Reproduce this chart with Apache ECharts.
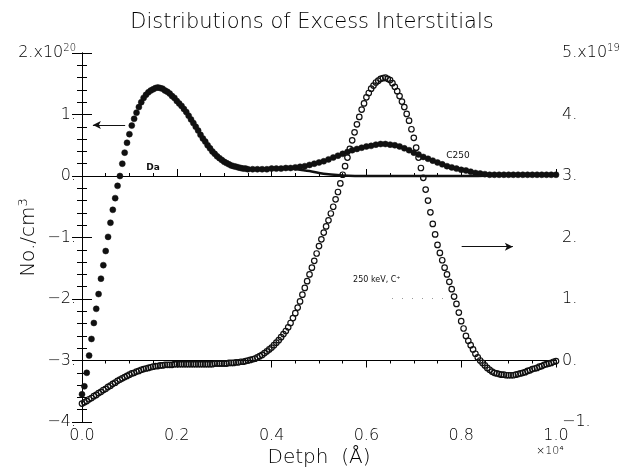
<!DOCTYPE html>
<html>
<head>
<meta charset="utf-8">
<script src="https://cdn.jsdelivr.net/npm/echarts/dist/echarts.min.js"></script>
<style>
  html, body { margin: 0; padding: 0; background: #fff; }
  #chart { width: 624px; height: 472px; }
</style>
</head>
<body>
<div id="chart"></div>
<script>
// depth in units of 1e4 Angstrom
// left axis (x1e20 /cm3): Da and C250 interstitial curves
const c250Data = [
  [0.000,-3.55],[0.005,-3.42],[0.010,-3.20],[0.015,-2.92],[0.020,-2.65],[0.025,-2.39],[0.030,-2.16],
  [0.035,-1.92],[0.040,-1.67],[0.045,-1.45],[0.050,-1.22],[0.055,-0.99],[0.060,-0.76],[0.065,-0.55],
  [0.070,-0.36],[0.075,-0.16],[0.080,0.00],[0.085,0.20],[0.090,0.38],[0.095,0.54],[0.100,0.68],
  [0.105,0.82],[0.110,0.93],[0.115,1.03],[0.120,1.12],[0.125,1.20],[0.130,1.27],[0.135,1.32],
  [0.140,1.36],[0.145,1.39],[0.150,1.41],[0.155,1.43],[0.160,1.44],[0.165,1.43],[0.170,1.42],
  [0.175,1.39],[0.180,1.37],[0.185,1.34],[0.190,1.30],[0.195,1.27],[0.200,1.22],[0.205,1.18],
  [0.210,1.14],[0.215,1.09],[0.220,1.04],[0.225,0.98],[0.230,0.92],[0.235,0.86],[0.240,0.80],
  [0.245,0.74],[0.250,0.67],[0.255,0.61],[0.260,0.56],[0.265,0.50],[0.270,0.45],[0.275,0.40],
  [0.280,0.36],[0.285,0.32],[0.290,0.29],[0.295,0.26],[0.300,0.23],[0.305,0.21],[0.310,0.19],
  [0.315,0.17],[0.320,0.16],[0.325,0.15],[0.330,0.14],[0.335,0.13],[0.340,0.12],[0.345,0.12],
  [0.350,0.11],[0.36,0.11],[0.37,0.11],[0.38,0.11],[0.39,0.11],[0.40,0.12],[0.41,0.12],[0.42,0.12],
  [0.43,0.13],[0.44,0.13],[0.45,0.14],[0.46,0.15],[0.47,0.16],[0.48,0.18],[0.49,0.20],[0.50,0.22],
  [0.51,0.24],[0.52,0.27],[0.53,0.30],[0.54,0.33],[0.55,0.36],[0.56,0.39],[0.57,0.42],[0.58,0.44],
  [0.59,0.46],[0.60,0.48],[0.61,0.49],[0.62,0.51],[0.63,0.52],[0.64,0.52],[0.65,0.51],[0.66,0.50],
  [0.67,0.48],[0.68,0.45],[0.69,0.42],[0.70,0.38],[0.71,0.35],[0.72,0.31],[0.73,0.28],[0.74,0.25],
  [0.75,0.22],[0.76,0.19],[0.77,0.16],[0.78,0.14],[0.79,0.12],[0.80,0.10],[0.81,0.09],[0.82,0.07],
  [0.83,0.05],[0.84,0.04],[0.85,0.03],[0.86,0.02],[0.87,0.02],[0.88,0.02],[0.89,0.02],[0.90,0.02],
  [0.91,0.02],[0.92,0.02],[0.93,0.02],[0.94,0.02],[0.95,0.02],[0.96,0.02],[0.97,0.02],[0.98,0.02],
  [0.99,0.02],[1.00,0.02]
];
const daData = [
  [0.12,1.12],[0.14,1.36],[0.16,1.44],[0.18,1.37],[0.20,1.22],[0.22,1.04],[0.24,0.80],[0.26,0.56],
  [0.28,0.36],[0.30,0.23],[0.32,0.16],[0.34,0.12],[0.36,0.11],[0.40,0.12],[0.44,0.12],[0.46,0.10],
  [0.48,0.08],[0.50,0.05],[0.52,0.03],[0.55,0.01],[0.60,0.00],[0.70,0.00],[0.80,0.00],[0.90,0.01],
  [1.00,0.01]
];
// right axis (x1e19 /cm3): 250 keV C+ implant
const carbonData = [
  [0.000,-0.70],[0.005,-0.68],[0.010,-0.66],[0.015,-0.63],[0.020,-0.61],[0.025,-0.58],[0.030,-0.56],
  [0.035,-0.53],[0.040,-0.51],[0.045,-0.48],[0.050,-0.46],[0.055,-0.43],[0.060,-0.41],[0.065,-0.38],
  [0.070,-0.36],[0.075,-0.33],[0.080,-0.31],[0.085,-0.29],[0.090,-0.27],[0.095,-0.25],[0.100,-0.23],
  [0.105,-0.21],[0.110,-0.20],[0.115,-0.18],[0.120,-0.17],[0.125,-0.15],[0.130,-0.14],[0.135,-0.13],
  [0.140,-0.12],[0.145,-0.11],[0.150,-0.10],[0.155,-0.09],[0.160,-0.09],[0.165,-0.08],[0.170,-0.08],
  [0.175,-0.07],[0.180,-0.07],[0.185,-0.07],[0.190,-0.07],[0.195,-0.06],[0.200,-0.06],[0.205,-0.06],
  [0.210,-0.06],[0.215,-0.06],[0.220,-0.06],[0.225,-0.06],[0.230,-0.06],[0.235,-0.06],[0.240,-0.06],
  [0.245,-0.06],[0.250,-0.06],[0.255,-0.06],[0.260,-0.06],[0.265,-0.06],[0.270,-0.06],[0.275,-0.06],
  [0.280,-0.05],[0.285,-0.05],[0.290,-0.05],[0.295,-0.05],[0.300,-0.05],[0.305,-0.05],[0.310,-0.04],
  [0.315,-0.04],[0.320,-0.04],[0.325,-0.03],[0.330,-0.03],[0.335,-0.02],[0.340,-0.02],[0.345,-0.01],
  [0.350,0.00],[0.355,0.01],[0.360,0.02],[0.365,0.03],[0.370,0.05],[0.375,0.07],[0.380,0.09],
  [0.385,0.12],[0.390,0.15],[0.395,0.18],[0.400,0.21],[0.405,0.25],[0.410,0.29],[0.415,0.33],
  [0.420,0.38],[0.425,0.43],[0.430,0.48],[0.435,0.54],[0.440,0.61],[0.445,0.69],[0.450,0.77],
  [0.455,0.86],[0.460,0.96],[0.465,1.07],[0.470,1.18],[0.475,1.29],[0.480,1.40],[0.485,1.51],
  [0.490,1.62],[0.495,1.74],[0.500,1.86],[0.505,1.97],[0.510,2.08],[0.515,2.18],[0.520,2.28],
  [0.525,2.39],[0.530,2.50],[0.535,2.62],[0.540,2.74],[0.545,2.88],[0.550,3.02],[0.555,3.16],
  [0.560,3.30],[0.565,3.44],[0.570,3.58],[0.575,3.71],[0.580,3.84],[0.585,3.96],[0.590,4.08],
  [0.595,4.18],[0.600,4.28],[0.605,4.35],[0.610,4.42],[0.615,4.47],[0.620,4.52],[0.625,4.55],
  [0.630,4.58],[0.635,4.59],[0.640,4.60],[0.645,4.58],[0.650,4.56],[0.655,4.51],[0.660,4.45],
  [0.665,4.38],[0.670,4.30],[0.675,4.21],[0.680,4.12],[0.685,4.01],[0.690,3.90],[0.695,3.76],
  [0.700,3.62],[0.705,3.46],[0.710,3.30],[0.715,3.13],[0.720,2.97],[0.725,2.78],[0.730,2.60],
  [0.735,2.41],[0.740,2.22],[0.745,2.05],[0.750,1.88],[0.755,1.75],[0.760,1.63],[0.765,1.51],
  [0.770,1.40],[0.775,1.28],[0.780,1.16],[0.785,1.04],[0.790,0.92],[0.795,0.78],[0.800,0.64],
  [0.805,0.52],[0.810,0.40],[0.815,0.32],[0.820,0.25],[0.825,0.18],[0.830,0.11],[0.835,0.05],
  [0.840,0.00],[0.845,-0.04],[0.850,-0.08],[0.855,-0.12],[0.860,-0.15],[0.865,-0.18],[0.870,-0.20],
  [0.875,-0.21],[0.880,-0.22],[0.885,-0.23],[0.890,-0.23],[0.895,-0.24],[0.900,-0.24],[0.905,-0.24],
  [0.910,-0.24],[0.915,-0.23],[0.920,-0.22],[0.925,-0.21],[0.930,-0.20],[0.935,-0.19],[0.940,-0.17],
  [0.945,-0.16],[0.950,-0.14],[0.955,-0.13],[0.960,-0.12],[0.965,-0.10],[0.970,-0.09],[0.975,-0.07],
  [0.980,-0.06],[0.985,-0.05],[0.990,-0.04],[0.995,-0.02],[1.000,-0.01]
];

const leftRange = [-4, 2];
const rightRange = [-1, 5];
const xRange = [0, 1];

const ink = '#000';
const font = 'DejaVu Sans';
const thin = 200;

const chart = echarts.init(document.getElementById('chart'));

function tickLabel(v, top, exp) {
  if (v === top) return '{n|' + v + '.x10}{s|' + exp + '}';
  return (v < 0 ? '\u2212' : '') + Math.abs(v) + '.';
}

const supRich = {
  n: {fontSize: 16, color: ink, fontFamily: font, fontWeight: thin},
  s: {fontSize: 10, color: ink, fontFamily: font, fontWeight: thin, padding: [0, 0, 9, 0]}
};

// axis with only short inner ticks, drawn on top of a labelled axis
function minorAxis(range, interval, position, len) {
  return {
    type: 'value', min: range[0], max: range[1], interval: interval, position: position,
    axisLine: {show: false},
    axisTick: {inside: true, length: len, lineStyle: {color: ink}},
    splitLine: {show: false},
    axisLabel: {show: false}
  };
}

const option = {
  animation: false,
  backgroundColor: '#fff',
  title: {
    text: 'Distributions of Excess Interstitials',
    left: 'center',
    top: 7,
    textStyle: {fontSize: 21, fontWeight: thin, color: ink, fontFamily: font}
  },
  grid: {left: 82, right: 68, top: 53, bottom: 50, containLabel: false, outerBoundsMode: 'none'},
  xAxis: [
    {
      type: 'value', min: xRange[0], max: xRange[1], interval: 0.2,
      name: 'Detph  (Å)', nameLocation: 'middle', nameGap: 26, nameMoveOverlap: false,
      nameTextStyle: {fontSize: 20, fontWeight: thin, color: ink, fontFamily: font},
      axisLine: {lineStyle: {color: ink, width: 1}},
      axisTick: {inside: true, length: 7, lineStyle: {color: ink}},
      splitLine: {show: false},
      axisLabel: {fontSize: 16, fontWeight: thin, color: ink, fontFamily: font, margin: 6,
        formatter: v => v.toFixed(1)}
    },
    {
      type: 'value', min: xRange[0], max: xRange[1], interval: 0.2, position: 'top',
      axisLine: {lineStyle: {color: ink, width: 1}},
      axisTick: {inside: true, length: 7, lineStyle: {color: ink}},
      splitLine: {show: false},
      axisLabel: {show: false}
    },
    minorAxis(xRange, 0.05, 'bottom', 3),
    minorAxis(xRange, 0.05, 'top', 3)
  ],
  yAxis: [
    {
      type: 'value', min: leftRange[0], max: leftRange[1], interval: 1,
      name: 'No./cm{s|3}', nameLocation: 'middle', nameGap: 42, nameRotate: 90,
      nameMoveOverlap: false,
      nameTextStyle: {fontSize: 20, fontWeight: thin, color: ink, fontFamily: font,
        rich: {s: {fontSize: 13, fontWeight: thin, color: ink, fontFamily: font, padding: [0, 0, 10, 0]}}},
      axisLine: {lineStyle: {color: ink, width: 1}},
      axisTick: {inside: true, length: 10, lineStyle: {color: ink}},
      splitLine: {show: false},
      axisLabel: {fontSize: 16, fontWeight: thin, color: ink, fontFamily: font, margin: 6,
        formatter: v => tickLabel(v, 2, '20'), rich: supRich}
    },
    {
      type: 'value', min: rightRange[0], max: rightRange[1], interval: 1, position: 'right',
      axisLine: {lineStyle: {color: ink, width: 1}},
      axisTick: {inside: true, length: 10, lineStyle: {color: ink}},
      splitLine: {show: false},
      axisLabel: {fontSize: 16, fontWeight: thin, color: ink, fontFamily: font, margin: 6,
        formatter: v => tickLabel(v, 5, '19'), rich: supRich}
    },
    minorAxis(leftRange, 0.2, 'left', 5),
    minorAxis(rightRange, 0.2, 'right', 5)
  ],
  graphic: [
    {type: 'text', left: 536, top: 446,
      style: {text: '×10⁴', fontSize: 11, fontWeight: thin, fill: ink, fontFamily: font}}
  ],
  series: [
    {
      name: 'Da', type: 'line', xAxisIndex: 0, yAxisIndex: 0,
      data: daData, smooth: 0.4, showSymbol: false, silent: true,
      lineStyle: {color: '#111', width: 2.5},
      markPoint: {
        symbol: 'circle', symbolSize: 0, silent: true,
        label: {show: true, formatter: '{b}', fontSize: 9, fontWeight: 'bold', color: '#111', fontFamily: font},
        data: [{name: 'Da', coord: [0.150, 0.13]}]
      },
      markLine: {
        silent: true, symbol: ['none', 'arrow'], symbolSize: [6, 8],
        lineStyle: {color: '#111', width: 1.2, type: 'solid'}, label: {show: false},
        data: [[{coord: [0.091, 0.83]}, {coord: [0.023, 0.83]}]]
      }
    },
    {
      name: 'C250', type: 'scatter', xAxisIndex: 0, yAxisIndex: 0,
      data: c250Data, symbol: 'circle', symbolSize: 6, silent: true,
      itemStyle: {color: '#111', borderColor: '#111', borderWidth: 0.5, opacity: 1},
      markPoint: {
        symbol: 'circle', symbolSize: 0, silent: true,
        label: {show: true, formatter: '{b}', fontSize: 9, color: '#111', fontFamily: font},
        data: [{name: 'C250', coord: [0.793, 0.33]}]
      }
    },
    {
      name: '250 keV, C⁺', type: 'scatter', xAxisIndex: 0, yAxisIndex: 1,
      data: carbonData, symbol: 'circle', symbolSize: 5.5, silent: true,
      itemStyle: {color: 'rgba(0,0,0,0)', borderColor: '#111', borderWidth: 1.2, opacity: 1},
      markPoint: {
        symbol: 'circle', symbolSize: 0, silent: true,
        label: {show: true, formatter: '{b}', fontSize: 8, color: '#111', fontFamily: font},
        data: [{name: '250 keV, C⁺', coord: [0.622, 1.31]}]
      },
      markLine: {
        silent: true, label: {show: false},
        data: [
          [{coord: [0.801, 1.85], symbol: 'none', lineStyle: {color: '#111', width: 1.2, type: 'solid'}},
           {coord: [0.909, 1.85], symbol: 'arrow', symbolSize: [6, 8]}],
          [{coord: [0.654, 1.02], symbol: 'none', lineStyle: {color: '#999', width: 1, type: [1, 9]}},
           {coord: [0.762, 1.02], symbol: 'none'}]
        ]
      }
    }
  ]
};
chart.setOption(option);
</script>
</body>
</html>
